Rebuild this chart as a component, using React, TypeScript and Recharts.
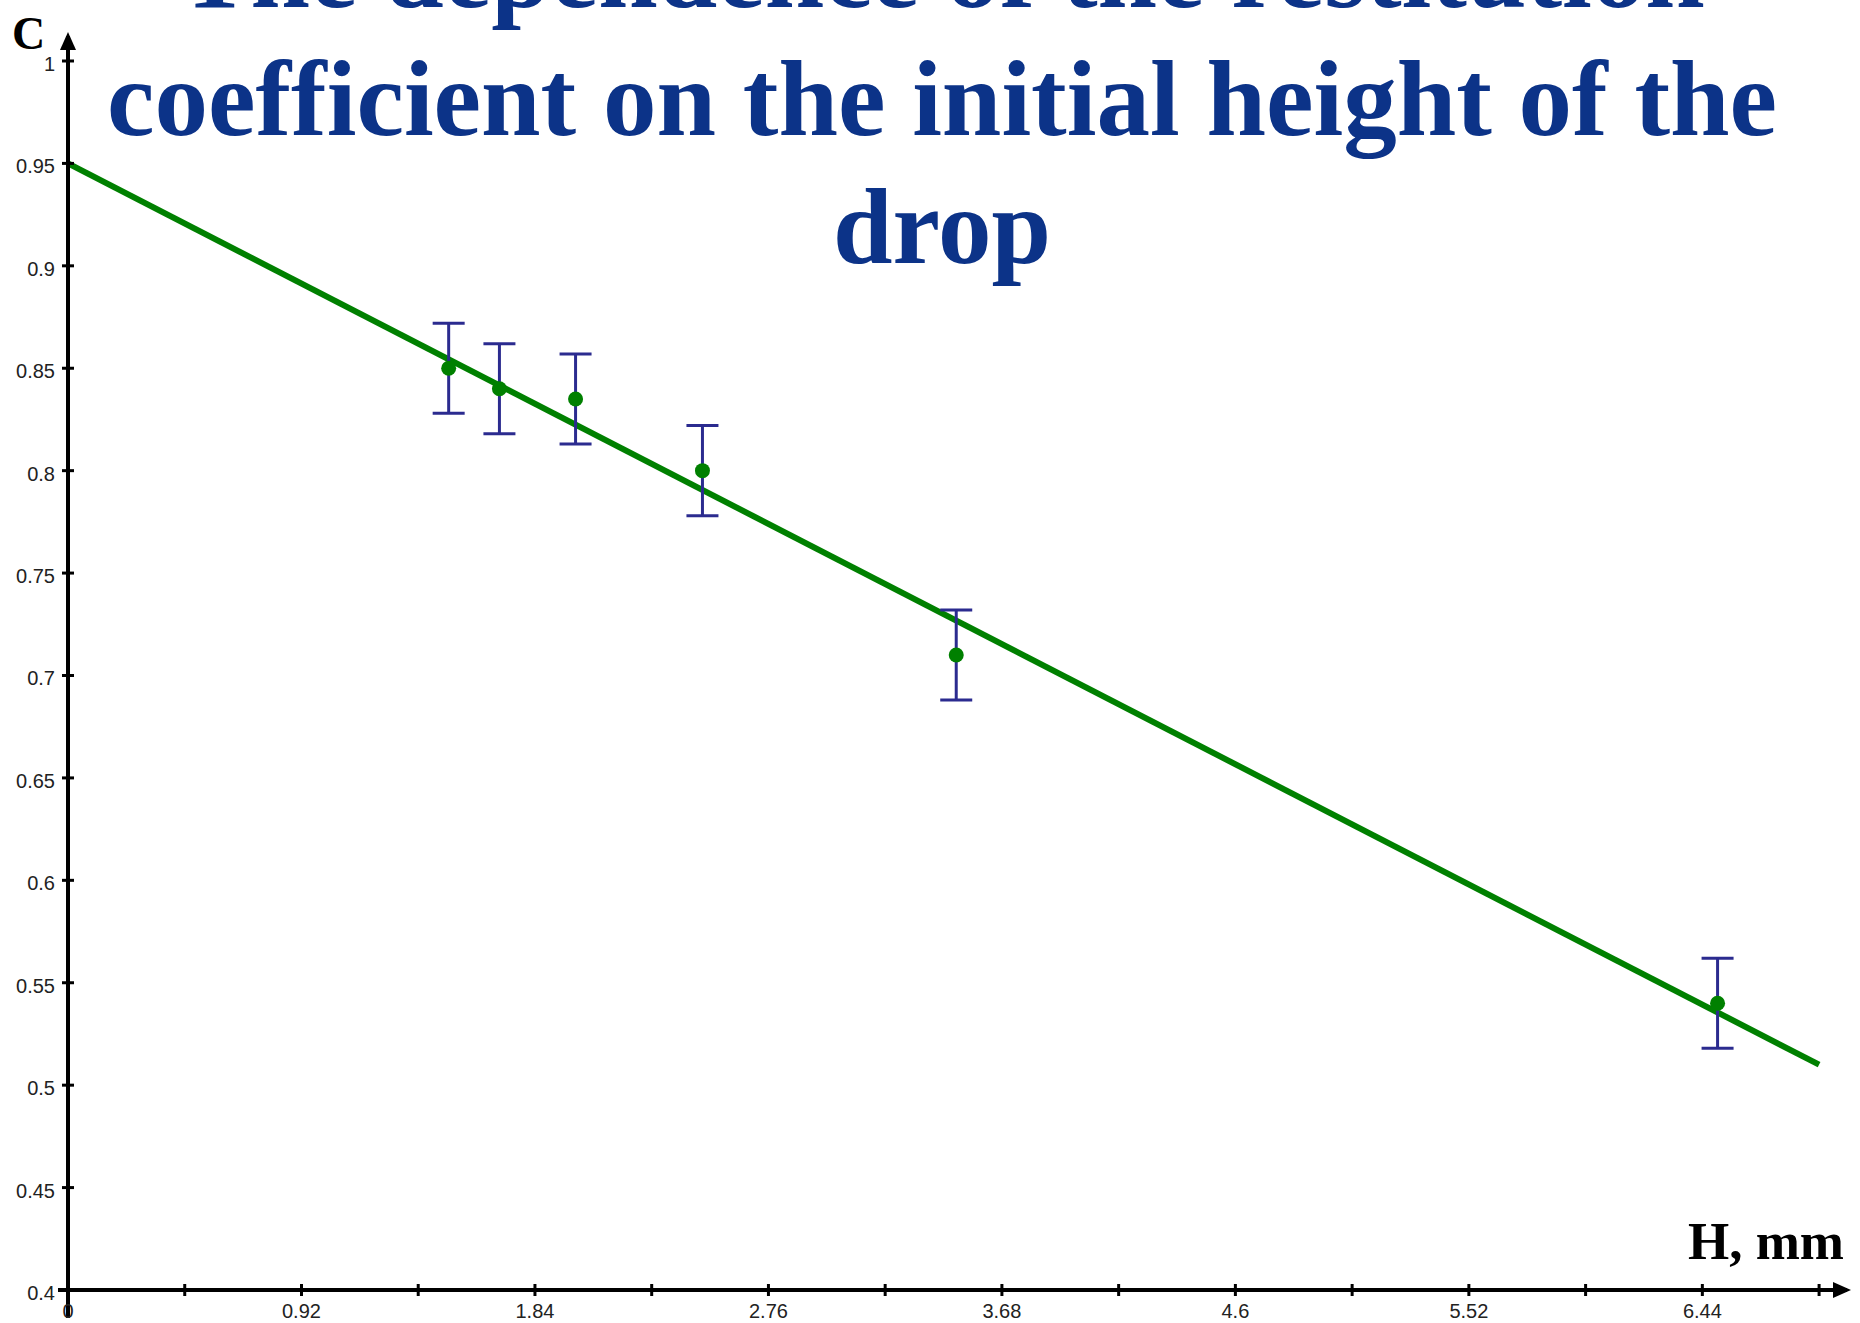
import React from "react";
import { ComposedChart, Line, Scatter, ErrorBar, XAxis, YAxis } from "recharts";

// measured drop heights (mm) and restitution coefficients
const heights = [1.5, 1.7, 2.0, 2.5, 3.5, 6.5];
const coeffs = [0.85, 0.84, 0.835, 0.8, 0.71, 0.54];
const errors = [0.022, 0.022, 0.022, 0.022, 0.022, 0.022];

// fitted straight line
const fitH = [0, 6.9];
const fitC = [0.95, 0.51];

const hTicks = [0, 0.46, 0.92, 1.38, 1.84, 2.3, 2.76, 3.22, 3.68, 4.14, 4.6, 5.06, 5.52, 5.98, 6.44, 6.9];
const cTicks = [0.4, 0.45, 0.5, 0.55, 0.6, 0.65, 0.7, 0.75, 0.8, 0.85, 0.9, 0.95, 1];

const titleLines = ["The dependence of the restitution", "coefficient on the initial height of the", "drop"];

const points = heights.map((h, i) => ({ h, c: coeffs[i], err: errors[i] }));
const fitLine = fitH.map((h, i) => ({ h, c: fitC[i] }));

const fmt = (v: number) => String(Number(v.toFixed(2)));
const tickFont = { fontFamily: "'Liberation Sans', Arial, sans-serif", fontSize: 20, fill: "#222" };

function XTick(props: any) {
    const { x, y, payload } = props;
    const idx = hTicks.indexOf(payload.value);
    return (
        <g>
            <line x1={x} y1={y - 6} x2={x} y2={y + 6} stroke="#000" strokeWidth={3} />
            {idx === 0 && <line x1={x} y1={y} x2={x} y2={y + 28} stroke="#000" strokeWidth={4} />}
            {idx % 2 === 0 && (
                <text x={x} y={y + 28} textAnchor="middle" {...tickFont}>
                    {fmt(payload.value)}
                </text>
            )}
        </g>
    );
}

function YTick(props: any) {
    const { x, y, payload } = props;
    const first = payload.value === cTicks[0];
    return (
        <g>
            <line x1={x - 6} y1={y} x2={x + 6} y2={y} stroke="#000" strokeWidth={3} />
            {first && <line x1={x - 10} y1={y} x2={x} y2={y} stroke="#000" strokeWidth={4} />}
            <text x={x - 13} y={y + 10} textAnchor="end" {...tickFont}>
                {fmt(payload.value)}
            </text>
        </g>
    );
}

const serif = "'Liberation Serif', 'Times New Roman', serif";

export default function App() {
    return (
        <div style={{ position: "absolute", left: 0, top: 0, width: 1860, height: 1323, overflow: "hidden", background: "#fff" }}>
            <svg width={0} height={0} style={{ position: "absolute" }}>
                <defs>
                    <marker id="arrowHead" markerWidth={18} markerHeight={16} refX={14} refY={8} orient="auto-start-reverse" markerUnits="userSpaceOnUse">
                        <path d="M0,0 L18,8 L0,16 z" fill="#000" />
                    </marker>
                </defs>
            </svg>
            <ComposedChart width={1860} height={1323} margin={{ top: 36, right: 13, left: 8, bottom: 0 }}>
                <XAxis
                    type="number"
                    dataKey="h"
                    domain={[0, 7.01]}
                    allowDataOverflow
                    ticks={hTicks}
                    interval={0}
                    height={33}
                    tickSize={0}
                    tickMargin={0}
                    tickLine={false}
                    axisLine={{ stroke: "#000", strokeWidth: 4, markerEnd: "url(#arrowHead)" }}
                    tick={<XTick />}
                />
                <YAxis
                    type="number"
                    dataKey="c"
                    domain={[0.4, 1.0122]}
                    allowDataOverflow
                    ticks={cTicks}
                    interval={0}
                    width={60}
                    tickSize={0}
                    tickMargin={0}
                    tickLine={false}
                    axisLine={{ stroke: "#000", strokeWidth: 4, markerStart: "url(#arrowHead)" }}
                    tick={<YTick />}
                />
                <Line data={fitLine} dataKey="c" stroke="#008000" strokeWidth={6} dot={false} isAnimationActive={false} />
                <Scatter
                    data={points}
                    dataKey="c"
                    isAnimationActive={false}
                    shape={(p: any) => <circle cx={p.cx} cy={p.cy} r={7.5} fill="#008000" />}
                />
                <Scatter data={points} dataKey="c" isAnimationActive={false} shape={() => <g />}>
                    <ErrorBar dataKey="err" direction="y" width={16} stroke="#2B2B8F" strokeWidth={3} isAnimationActive={false} />
                </Scatter>
            </ComposedChart>
            <div
                style={{
                    position: "absolute",
                    left: 0,
                    top: -93,
                    width: 1860,
                    paddingLeft: 24,
                    boxSizing: "border-box",
                    textAlign: "center",
                    fontFamily: serif,
                    fontWeight: "bold",
                    fontSize: 107,
                    lineHeight: "128px",
                    color: "#0C3388",
                    whiteSpace: "nowrap",
                    pointerEvents: "none",
                }}
            >
                {titleLines.map((t) => (
                    <div key={t}>{t}</div>
                ))}
            </div>
            <div style={{ position: "absolute", left: 12, top: 11, fontFamily: serif, fontWeight: "bold", fontSize: 46, lineHeight: "46px", color: "#000" }}>
                C
            </div>
            <div style={{ position: "absolute", left: 1688, top: 1215, fontFamily: serif, fontWeight: "bold", fontSize: 53, lineHeight: "53px", color: "#000", whiteSpace: "nowrap" }}>
                H, mm
            </div>
        </div>
    );
}
